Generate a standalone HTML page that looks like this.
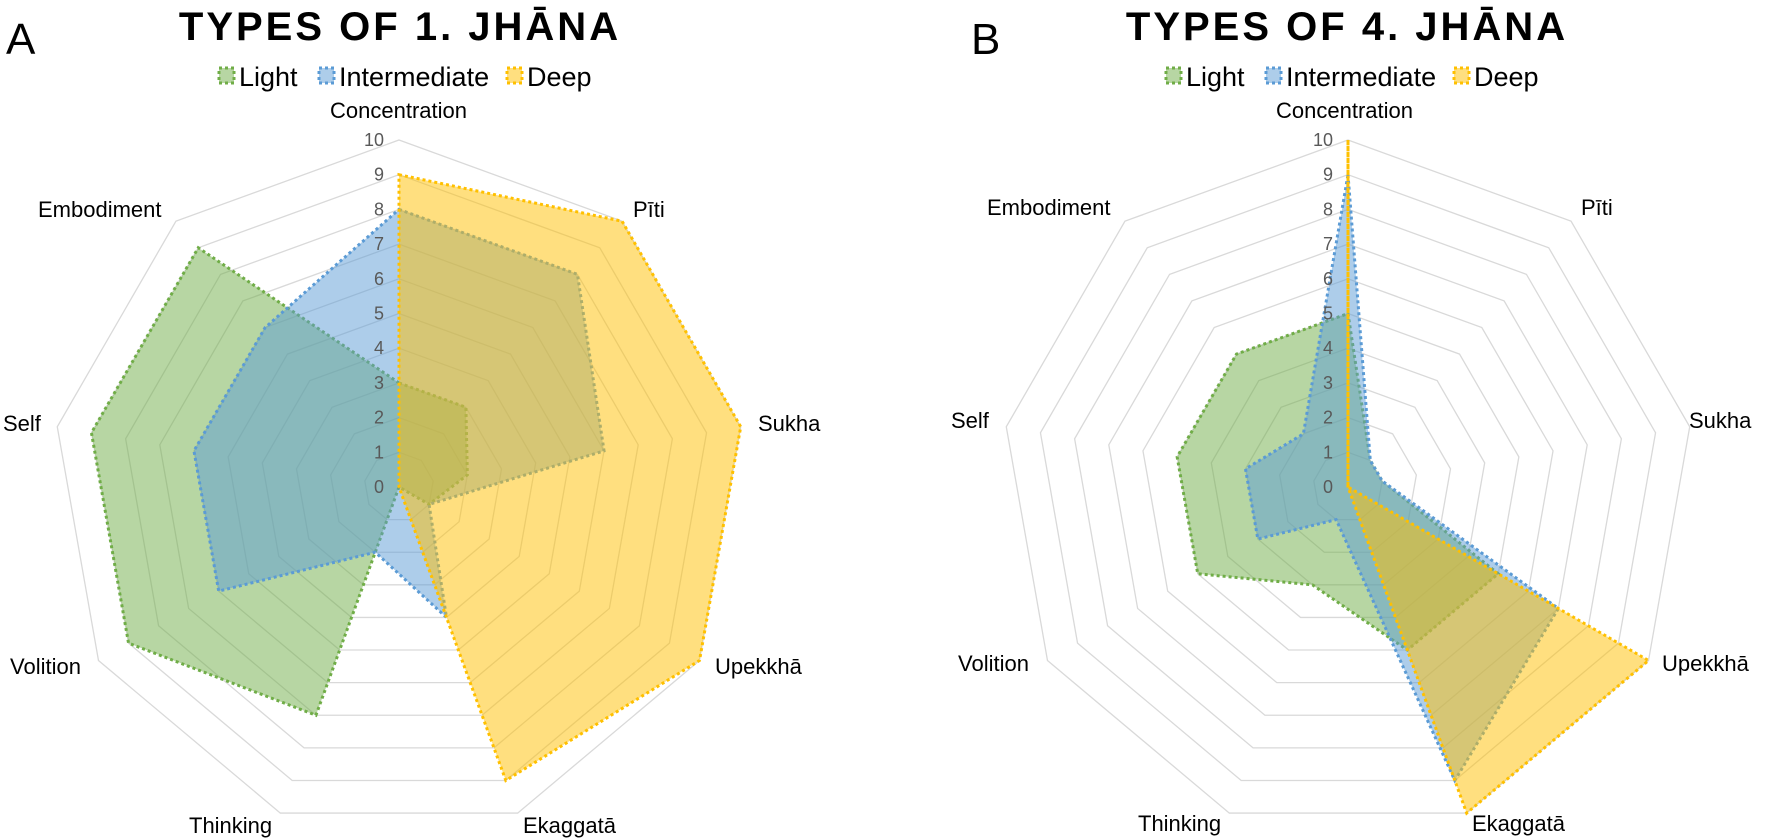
<!DOCTYPE html>
<html><head><meta charset="utf-8"><style>
html,body{margin:0;padding:0;background:#fff;}
svg{display:block;font-family:"Liberation Sans",Arial,sans-serif;}
</style></head><body>
<svg id="chart" width="1770" height="839" viewBox="0 0 1770 839"></svg>
<script>
const categories = ["Concentration","Pīti","Sukha","Upekkhā","Ekaggatā","Thinking","Volition","Self","Embodiment"];
const ticks = [0,1,2,3,4,5,6,7,8,9,10];
const seriesNames = ["Light","Intermediate","Deep"];
const aLight = [3,3,2,1,0,7,9,9,9];
const aIntermediate = [8,8,6,1,4,2,6,6,6];
const aDeep = [9,10,10,10,9,0,0,0,0];
const bLight = [5,1,1,5,5,3,5,5,5];
const bIntermediate = [9,1,1,7,9,1,3,3,2];
const bDeep = [10,0,0,10,10,0,0,0,0];

const NS="http://www.w3.org/2000/svg";
const svg=document.getElementById('chart');
const colors=["#70ad47","#5b9bd5","#ffc000"];
const fills=["rgba(112,173,71,0.5)","rgba(91,155,213,0.5)","rgba(255,192,0,0.5)"];
function mk(tag,attrs,parent){const e=document.createElementNS(NS,tag);for(const k in attrs)e.setAttribute(k,attrs[k]);(parent||svg).appendChild(e);return e;}

const R=347, maxV=10;
function pt(cx,cy,i,v){const a=i*2*Math.PI/categories.length;const r=v/maxV*R;return [cx+r*Math.sin(a),cy-r*Math.cos(a)];}

function drawChart(cfg){
  const g=mk('g',{});
  
  
  const cx=cfg.cx, cy=cfg.cy;
  // rings
  ticks.forEach(t=>{
    if(t===0)return;
    const pts=categories.map((c,i)=>pt(cx,cy,i,t).join(',')).join(' ');
    const p=mk('polygon',{points:pts,fill:'none',stroke:'#d9d9d9','stroke-width':1.3},g);
    
    
  });
  // series
  cfg.series.forEach((vals,s)=>{
    const pts=vals.map((v,i)=>pt(cx,cy,i,v).join(',')).join(' ');
    const p=mk('polygon',{points:pts,fill:fills[s],stroke:colors[s],'stroke-width':3,'stroke-dasharray':'3 3'},g);
    
    
  });
  // tick labels
  ticks.forEach(t=>{
    const y=cy-t/maxV*R;
    const tx=mk('text',{x:cx-15,y:y+6,'text-anchor':'end','font-size':18,fill:'#595959'},g);
    tx.textContent=t;
    
    
  });
  // category labels
  cfg.labels.forEach((l,i)=>{
    const tx=mk('text',{x:l[0],y:l[1],'font-size':22,fill:'#000'},g);
    tx.textContent=categories[i];
    
    
  });
  // title
  const ti=mk('text',{x:cfg.titleX,y:40,'text-anchor':'middle','font-size':40,'font-weight':'bold','letter-spacing':'3',fill:'#000'},g);
  ti.textContent=cfg.title;
  
  
  const pl=mk('text',{x:cfg.panelX,y:54,'font-size':44,fill:'#000'},g);
  pl.textContent=cfg.panel;
  
  
  // legend
  cfg.legend.forEach((lx,s)=>{
    const r=mk('rect',{x:lx,y:68,width:15,height:15,fill:fills[s],stroke:colors[s],'stroke-width':3,'stroke-dasharray':'3 3'},g);
    
    
    const tx=mk('text',{x:lx+20,y:86,'font-size':27,fill:'#000'},g);
    tx.textContent=seriesNames[s];
    
    
  });
}

drawChart({name:'radar-chart-a',cx:399,cy:487,title:'TYPES OF 1. JHĀNA',titleX:400,panel:'A',panelX:6,
  series:[aLight,aIntermediate,aDeep],legend:[219,319,507],
  labels:[[330,118],[633,217],[758,431],[715,674],[523,833],[189,833],[10,674],[3,431],[38,217]]});
drawChart({name:'radar-chart-b',cx:1348,cy:487,title:'TYPES OF 4. JHĀNA',titleX:1347,panel:'B',panelX:971,
  series:[bLight,bIntermediate,bDeep],legend:[1166,1266,1454],
  labels:[[1276,118],[1581,215],[1689,428],[1662,671],[1472,831],[1138,831],[958,671],[951,428],[987,215]]});
</script>
</body></html>
